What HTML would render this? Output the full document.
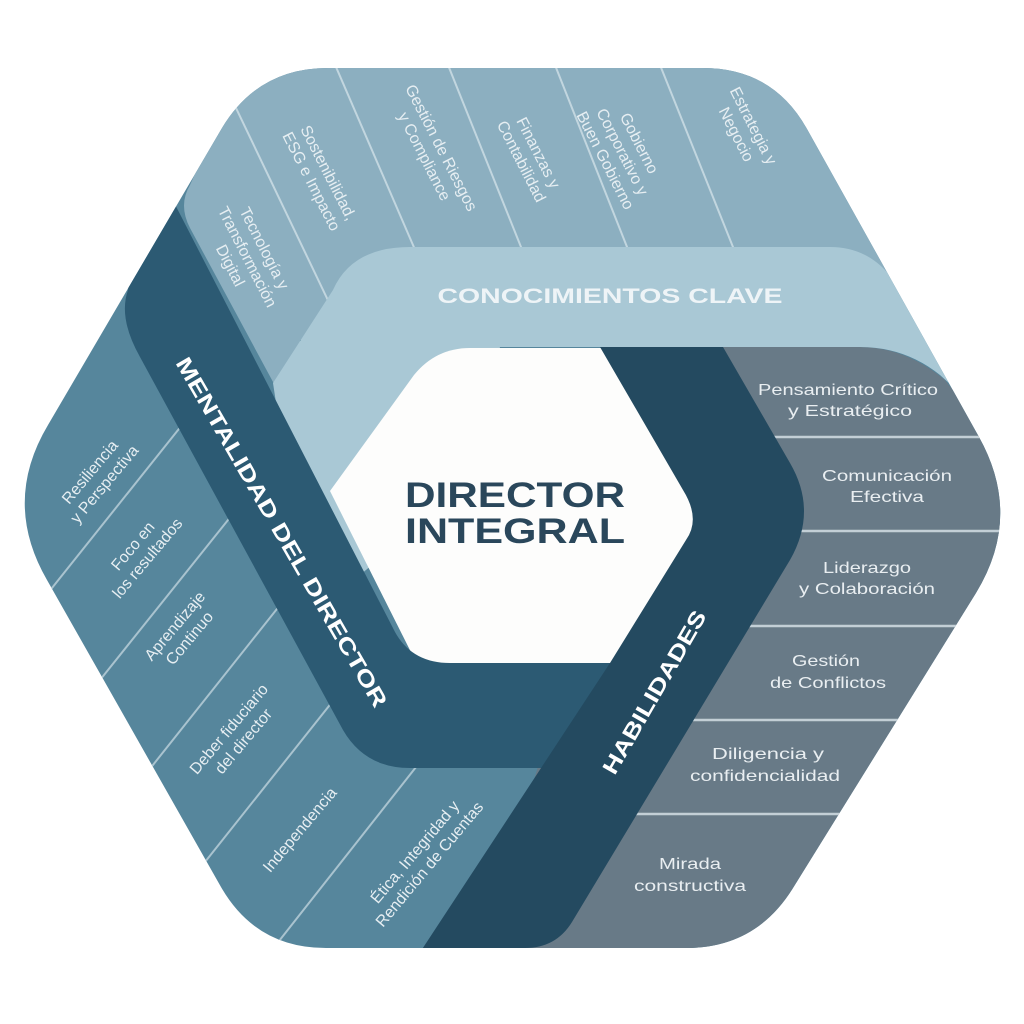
<!DOCTYPE html>
<html><head><meta charset="utf-8"><style>
html,body{margin:0;padding:0;background:#fff;}
svg{display:block;}
text{font-family:"Liberation Sans",sans-serif;}
</style></head><body>
<svg width="1024" height="1024" viewBox="0 0 1024 1024" xmlns="http://www.w3.org/2000/svg">
<defs>
<clipPath id="hex"><path d="M328 68 L703 68 Q773 68 807 129 L979 437 Q1023 516 976 593 L793 888 Q756 948 686 948 L326 948 Q256 948 221 887 L47 580 Q2 502 48 425 L222 128 Q258 68 328 68 Z"/></clipPath>
</defs>
<rect width="1024" height="1024" fill="#fff"/>
<g clip-path="url(#hex)">
  <rect width="1024" height="1024" fill="#56869c"/>
  <g stroke="#a9c3cf" stroke-width="2">
    <line x1="40" y1="603" x2="190" y2="415"/>
    <line x1="92" y1="690" x2="240" y2="505"/>
    <line x1="145" y1="775" x2="292" y2="590"/>
    <line x1="205" y1="862" x2="352" y2="677"/>
    <line x1="268" y1="955" x2="420" y2="762"/>
  </g>
  <path d="M660 347 L860 347 Q905 347 945 380 L1040 500 L1040 1000 L470 1000 Z" fill="#687a87"/>
  <g stroke="#c3cfd6" stroke-width="2.5">
    <line x1="650" y1="437" x2="1024" y2="437"/>
    <line x1="690" y1="531" x2="1024" y2="531"/>
    <line x1="640" y1="626" x2="1024" y2="626"/>
    <line x1="580" y1="720" x2="1024" y2="720"/>
    <line x1="530" y1="814" x2="1024" y2="814"/>
  </g>
  <path d="M300 432 L190 228 Q178 205 190 185 L260 30 L1040 30 L1040 340 L300 340 Z" fill="#8cafc0"/>
  <g stroke="#c2d6df" stroke-width="2">
    <line x1="225" y1="85" x2="335" y2="315"/>
    <line x1="333" y1="60" x2="416" y2="252"/>
    <line x1="446" y1="60" x2="523" y2="252"/>
    <line x1="553" y1="60" x2="629" y2="252"/>
    <line x1="658" y1="60" x2="735" y2="252"/>
  </g>
  <path d="M300 560 L273 383 L333 290 Q352 247 410 247 L830 247 Q880 247 905 300 L990 420 L940 375 Q905 347 860 347 L500 347 L450 500 L330 600 Z" fill="#a9c8d5"/>
  <path d="M620 348 L720 519 L620 690 L430 690 L330 491 L414 375 Q436 348 470 348 Z" fill="#fdfdfc"/>
  <path d="M147 150 L395 632 Q412 663 450 663 L640 663 L640 768 L410 768 Q365 768 343 730 L140 357 Q118 318 128 290 Z" fill="#2c5a73"/>
  <path d="M600 347 L723 347 L790 463 Q818 511 790 560 L572 922 Q556 948 525 948 L420 960 L415 960 L610 663 L686 540 Q701 519 683 490 Z" fill="#244a60"/>
</g>

<text x="515" y="507" font-size="35" font-weight="bold" fill="#2a475b" text-anchor="middle" textLength="220" lengthAdjust="spacingAndGlyphs">DIRECTOR</text>
<text x="515" y="543" font-size="35" font-weight="bold" fill="#2a475b" text-anchor="middle" textLength="220" lengthAdjust="spacingAndGlyphs">INTEGRAL</text>

<text x="610" y="303" font-size="21" font-weight="bold" fill="#eef4f7" text-anchor="middle" textLength="345" lengthAdjust="spacingAndGlyphs">CONOCIMIENTOS CLAVE</text>

<text transform="translate(282,532) rotate(60)" x="0" y="8" font-size="22" font-weight="bold" fill="#ffffff" text-anchor="middle" textLength="400" lengthAdjust="spacingAndGlyphs">MENTALIDAD DEL DIRECTOR</text>
<text transform="translate(654,692) rotate(-60)" x="0" y="8" font-size="22" font-weight="bold" fill="#ffffff" text-anchor="middle" textLength="185" lengthAdjust="spacingAndGlyphs">HABILIDADES</text>

<g font-size="16" fill="#e9eef1" text-anchor="middle">
  <text x="848" y="395" textLength="180" lengthAdjust="spacingAndGlyphs">Pensamiento Crítico</text>
  <text x="850" y="416" textLength="124" lengthAdjust="spacingAndGlyphs">y Estratégico</text>
  <text x="887" y="481" textLength="130" lengthAdjust="spacingAndGlyphs">Comunicación</text>
  <text x="887" y="502" textLength="74" lengthAdjust="spacingAndGlyphs">Efectiva</text>
  <text x="867" y="573" textLength="88" lengthAdjust="spacingAndGlyphs">Liderazgo</text>
  <text x="867" y="594" textLength="136" lengthAdjust="spacingAndGlyphs">y Colaboración</text>
  <text x="826" y="666" textLength="68" lengthAdjust="spacingAndGlyphs">Gestión</text>
  <text x="828" y="688" textLength="116" lengthAdjust="spacingAndGlyphs">de Conflictos</text>
  <text x="768" y="759" textLength="112" lengthAdjust="spacingAndGlyphs">Diligencia y</text>
  <text x="765" y="781" textLength="150" lengthAdjust="spacingAndGlyphs">confidencialidad</text>
  <text x="690" y="869" textLength="62" lengthAdjust="spacingAndGlyphs">Mirada</text>
  <text x="690" y="891" textLength="112" lengthAdjust="spacingAndGlyphs">constructiva</text>
</g>

<g font-size="16" fill="#e6eef2" text-anchor="middle">
  <text transform="translate(247,257) rotate(63)"><tspan x="0" y="-14">Tecnología y</tspan><tspan x="0" y="5">Transformación</tspan><tspan x="0" y="24">Digital</tspan></text>
  <text transform="translate(320,177) rotate(63)"><tspan x="0" y="-4">Sostenibilidad,</tspan><tspan x="0" y="15">ESG e Impacto</tspan></text>
  <text transform="translate(433,152) rotate(63)"><tspan x="0" y="-4">Gestión de Riesgos</tspan><tspan x="0" y="15">y Compliance</tspan></text>
  <text transform="translate(530,157) rotate(63)"><tspan x="0" y="-4">Finanzas y</tspan><tspan x="0" y="15">Contabilidad</tspan></text>
  <text transform="translate(622,152) rotate(63)"><tspan x="0" y="-14">Gobierno</tspan><tspan x="0" y="5">Corporativo y</tspan><tspan x="0" y="24">Buen Gobierno</tspan></text>
  <text transform="translate(745,130) rotate(63)"><tspan x="0" y="-4">Estrategia y</tspan><tspan x="0" y="15">Negocio</tspan></text>
</g>

<g font-size="16" fill="#e6eef2" text-anchor="middle">
  <text transform="translate(97,478) rotate(-50)"><tspan x="0" y="-4">Resiliencia</tspan><tspan x="0" y="15">y Perspectiva</tspan></text>
  <text transform="translate(140,552) rotate(-50)"><tspan x="0" y="-4">Foco en</tspan><tspan x="0" y="15">los resultados</tspan></text>
  <text transform="translate(182,632) rotate(-50)"><tspan x="0" y="-4">Aprendizaje</tspan><tspan x="0" y="15">Continuo</tspan></text>
  <text transform="translate(236,735) rotate(-50)"><tspan x="0" y="-4">Deber fiduciario</tspan><tspan x="0" y="15">del director</tspan></text>
  <text transform="translate(300,830) rotate(-50)"><tspan x="0" y="5">Independencia</tspan></text>
  <text transform="translate(422,858) rotate(-50)"><tspan x="0" y="-4">Ética, Integridad y</tspan><tspan x="0" y="15">Rendición de Cuentas</tspan></text>
</g>
</svg>
</body></html>
